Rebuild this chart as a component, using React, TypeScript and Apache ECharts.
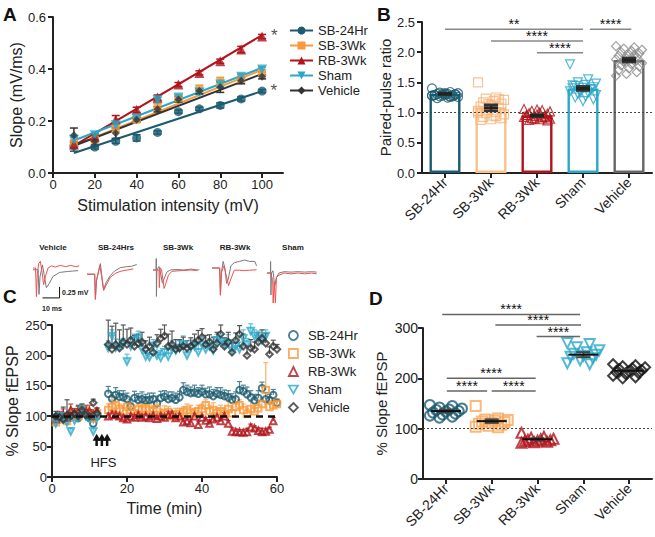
import React, { useEffect, useRef } from 'react';
import * as echarts from 'echarts';

const FONT = "'Liberation Sans', Arial, Helvetica, sans-serif";
const NARROW = "'Liberation Sans Narrow', 'Liberation Sans', Arial, sans-serif";

const groups = ['SB-24Hr', 'SB-3Wk', 'RB-3Wk', 'Sham', 'Vehicle'];

// ---------- Panel A: input/output ----------
const intensity = [10, 20, 30, 40, 50, 60, 70, 80, 90, 100];
const aSB24 = [0.104, 0.1, 0.122, 0.135, 0.156, 0.236, 0.247, 0.26, 0.285, 0.315];
const aSB3 = [0.115, 0.128, 0.17, 0.205, 0.256, 0.288, 0.325, 0.35, 0.365, 0.385];
const aRB3 = [0.11, 0.14, 0.206, 0.243, 0.29, 0.34, 0.385, 0.43, 0.475, 0.525];
const aSham = [0.128, 0.145, 0.184, 0.21, 0.28, 0.29, 0.31, 0.34, 0.37, 0.398];
const aVeh = [0.145, 0.122, 0.153, 0.205, 0.245, 0.283, 0.315, 0.33, 0.355, 0.37];
const aErrSB24 = [0.02, 0.008, 0.008, 0.012, 0.006, 0.006, 0.006, 0.01, 0.008, 0.006];
const aErrSB3 = [0.01, 0.01, 0.012, 0.01, 0.012, 0.012, 0.012, 0.018, 0.015, 0.012];
const aErrRB3 = [0.01, 0.01, 0.015, 0.01, 0.01, 0.008, 0.008, 0.008, 0.012, 0.008];
const aErrSham = [0.01, 0.008, 0.01, 0.008, 0.01, 0.01, 0.008, 0.01, 0.01, 0.01];
const aErrVeh = [0.028, 0.02, 0.02, 0.008, 0.01, 0.01, 0.01, 0.02, 0.012, 0.008];
const aFitStart = [0.077, 0.105, 0.105, 0.125, 0.105];
const aFitEnd = [0.315, 0.397, 0.53, 0.405, 0.381];
const aStarred = [true, false, true, false, false];

// ---------- Panel B: paired-pulse ratio ----------
const bSB24 = [1.4, 1.34, 1.33, 1.32, 1.31, 1.31, 1.3, 1.3, 1.29, 1.29, 1.28, 1.28, 1.27, 1.27, 1.26, 1.25, 1.24, 1.3, 1.32, 1.29, 1.27, 1.31, 1.28, 1.26];
const bSB3 = [1.5, 1.25, 1.23, 1.21, 1.19, 1.17, 1.15, 1.12, 1.1, 1.08, 1.05, 1.03, 1.01, 0.99, 0.97, 0.95, 0.93, 0.91, 0.89, 0.88, 1.22, 1.14, 1.0, 0.94];
const bRB3 = [1.06, 1.04, 1.03, 1.02, 1.0, 0.99, 0.98, 0.97, 0.96, 0.95, 0.94, 0.93, 0.92, 0.91, 0.9, 0.89, 0.88, 0.87, 1.05, 0.96, 0.93, 0.9];
const bSham = [1.8, 1.55, 1.5, 1.48, 1.46, 1.44, 1.42, 1.41, 1.4, 1.38, 1.36, 1.35, 1.33, 1.31, 1.29, 1.27, 1.25, 1.22, 1.19, 1.45, 1.39, 1.34];
const bVeh = [2.1, 2.08, 2.06, 2.04, 2.02, 2.0, 1.98, 1.96, 1.94, 1.92, 1.9, 1.88, 1.86, 1.84, 1.82, 1.8, 1.78, 1.76, 1.73, 1.7, 1.67, 1.64, 1.61, 1.95, 1.85];
const bMean = [1.31, 1.08, 0.95, 1.4, 1.87];
const bSem = [0.015, 0.05, 0.015, 0.035, 0.035];
const bSigFrom = [0, 1, 2, 3.15];
const bSigTo = [3, 3, 3, 4.05];
const bSigLevel = [2.38, 2.185, 1.99, 2.38];
const bSigLabel = ['**', '****', '****', '****'];

// ---------- Sample traces (ms, mV) ----------
const trVehRed = [[0, 0], [1.5, 0], [2, -0.65], [2.5, -0.15], [3.3, 0.1], [4.3, 0.15], [5.3, -0.1], [6.2, -0.38], [7.2, -0.2], [8.8, 0], [10.7, 0.05], [13, 0.02], [16, 0.06], [19, 0.03], [22, 0.06], [25, 0.03], [27, 0.05]];
const trVehGray = [[0, -0.04], [3, -0.04], [3.5, -0.6], [4.1, -0.2], [5.5, 0.07], [6.5, -0.15], [7.8, -0.45], [9.5, -0.35], [11.7, -0.19], [15.6, -0.1], [20, -0.08], [23, -0.07], [26.3, -0.06]];
const trSB24Gray = [[0, -0.05], [4.5, -0.05], [4.9, -0.62], [5.5, -0.2], [7.8, 0.19], [8.7, -0.1], [9.7, -0.4], [11, -0.25], [13.6, -0.08], [16, 0.02], [19.5, 0.1], [23, 0.12], [26, 0.13], [29, 0.17]];
const trSB24Red = [[0, -0.05], [4.5, -0.05], [4.9, -0.62], [5.5, -0.2], [7.5, 0.15], [8.5, -0.1], [9.7, -0.42], [11.2, -0.3], [13.6, -0.12], [17, -0.02], [20, 0.02], [24, 0.05], [27, 0.07]];
const trSB3Gray = [[0, 0], [1.8, 0], [1.9, 0.3], [2.0, -0.6], [2.3, 0], [3.5, 0.08], [4.5, -0.1], [5.5, -0.3], [6.5, -0.2], [8, -0.05], [10, 0], [14, 0.01], [18, 0.0], [22, 0.02], [26, 0.0], [27, 0.01]];
const trSB3Red = [[0, 0], [3.5, 0], [3.7, -0.4], [4.2, 0.05], [5, 0.0], [6.5, -0.42], [7.5, -0.3], [9, -0.12], [11, -0.03], [14, -0.02], [18, -0.01], [22, 0.0], [26, -0.01]];
const trRB3Gray = [[0, 0], [4.5, 0], [4.9, -0.6], [5.5, -0.1], [6.5, 0.15], [7.5, 0], [8.5, -0.35], [9.5, -0.25], [11, 0.05], [13, 0.12], [16, 0.15], [19, 0.18], [22, 0.15], [25, 0.15], [26, 0.05]];
const trRB3Red = [[0, 0], [4.5, 0], [4.9, -0.62], [5.5, -0.1], [7, 0.05], [8.5, -0.2], [9.7, -0.4], [11, -0.25], [13, -0.05], [16, -0.05], [19, -0.06], [22, -0.05], [26, -0.04]];
const trShamGray = [[0, 0], [2, 0], [2.1, 0.35], [2.3, -0.5], [2.6, 0], [3.5, 0.05], [4.5, -0.3], [5.5, -0.1], [7, 0.0], [10, 0.03], [14, 0.02], [18, 0.03], [22, 0.02], [26, 0.03], [29, 0.02]];
const trShamRed = [[0, 0], [2, 0], [3.3, -0.15], [3.6, -0.68], [4.2, -0.2], [4.9, -0.68], [5.5, -0.1], [7, -0.05], [10, 0.0], [14, -0.02], [18, 0.0], [22, -0.02], [26, 0.0], [29, -0.02]];
const traceLabels = ['Vehicle', 'SB-24Hrs', 'SB-3Wk', 'RB-3Wk', 'Sham'];
const scaleBarMs = 10;
const scaleBarMv = 0.25;

// ---------- Panel C: LTP time course ----------
const cPreTime = [1, 2, 3, 4, 5, 6, 7, 8, 9, 10, 11, 12];
const cPostTime = [15, 16, 17, 18, 19, 20, 21, 22, 23, 24, 25, 26, 27, 28, 29, 30, 31, 32, 33, 34, 35, 36, 37, 38, 39, 40, 41, 42, 43, 44, 45, 46, 47, 48, 49, 50, 51, 52, 53, 54, 55, 56, 57, 58, 59, 60];
const cPreSB24 = [98, 100, 95, 97, 102, 100, 97, 106, 104, 97, 88, 100];
const cPreSB3 = [90, 95, 98, 92, 100, 105, 100, 108, 110, 103, 97, 105];
const cPreRB3 = [95, 100, 102, 98, 110, 104, 108, 106, 110, 108, 103, 108];
const cPreSham = [88, 100, 95, 90, 75, 93, 98, 110, 100, 96, 75, 98];
const cPreVeh = [100, 98, 95, 102, 100, 104, 100, 110, 102, 100, 122, 105];
const cPostSB24 = [137, 129, 135, 132, 131, 128, 116, 130, 127, 128, 126, 127, 128, 121, 130, 132, 128, 130, 127, 131, 143, 140, 138, 139, 137, 140, 136, 136, 133, 137, 135, 133, 131, 127, 128, 143, 141, 136, 131, 126, 130, 146, 128, 126, 135, 122];
const cPostSB3 = [110, 115, 118, 112, 108, 115, 110, 105, 112, 110, 113, 110, 108, 112, 102, 105, 107, 100, 103, 104, 107, 110, 106, 104, 108, 112, 118, 108, 110, 105, 108, 104, 112, 105, 115, 118, 110, 104, 112, 108, 113, 120, 143, 115, 118, 120];
const cPostRB3 = [100, 103, 102, 100, 97, 95, 100, 98, 102, 98, 100, 97, 101, 96, 100, 98, 102, 103, 97, 100, 90, 92, 89, 100, 86, 98, 93, 88, 95, 98, 92, 100, 88, 75, 74, 74, 73, 74, 82, 80, 76, 74, 75, 78, 92];
const cPostSham = [212, 232, 213, 214, 218, 190, 215, 225, 228, 210, 198, 197, 216, 200, 196, 205, 198, 210, 208, 212, 218, 200, 213, 215, 205, 218, 210, 215, 208, 225, 222, 218, 220, 208, 215, 210, 228, 218, 240, 232, 228, 225, 232];
const cPostVeh = [218, 210, 218, 212, 222, 218, 225, 215, 220, 222, 210, 215, 205, 220, 228, 232, 215, 218, 210, 212, 215, 212, 215, 220, 225, 230, 218, 222, 210, 220, 235, 215, 222, 205, 225, 235, 215, 200, 212, 210, 222, 228, 220, 202, 215, 210];
const cPreErrSB24 = [5, 4, 6, 5, 4, 5, 6, 5, 4, 5, 6, 5];
const cPreErrSB3 = [6, 8, 5, 10, 6, 8, 6, 8, 6, 5, 6, 8];
const cPreErrRB3 = [6, 8, 10, 6, 10, 8, 8, 10, 8, 10, 8, 6];
const cPreErrSham = [8, 6, 8, 10, 6, 8, 6, 10, 8, 6, 8, 6];
const cPreErrVeh = [8, 6, 20, 25, 10, 8, 18, 10, 8, 10, 6, 8];
const cPostErrSB24 = [12, 10, 12, 10, 11, 10, 12, 11, 10, 12, 10, 11, 10, 12, 11, 10, 12, 10, 11, 10, 12, 11, 10, 12, 10, 11, 10, 12, 11, 10, 12, 10, 11, 10, 12, 14, 10, 12, 11, 10, 12, 10, 11, 10, 9, 6];
const cPostErrSB3 = [10, 12, 10, 8, 9, 10, 12, 10, 8, 10, 12, 10, 9, 8, 10, 12, 9, 8, 10, 9, 8, 10, 12, 9, 10, 8, 9, 10, 12, 8, 10, 9, 12, 10, 8, 9, 10, 8, 12, 10, 9, 10, 45, 10, 8, 9];
const cPostErrRB3 = [5, 6, 5, 4, 6, 5, 4, 5, 6, 5, 4, 5, 6, 5, 4, 5, 6, 5, 4, 5, 6, 5, 6, 5, 6, 4, 5, 6, 5, 4, 5, 6, 5, 6, 5, 4, 5, 6, 5, 4, 5, 6, 5, 4, 6];
const cPostErrSham = [12, 10, 14, 12, 10, 12, 14, 10, 12, 14, 10, 12, 10, 14, 12, 10, 12, 14, 10, 12, 14, 10, 12, 10, 14, 12, 10, 12, 14, 10, 12, 10, 14, 12, 10, 12, 14, 10, 12, 10, 12, 8, 10];
const cPostErrVeh = [40, 38, 35, 30, 28, 25, 20, 18, 15, 16, 14, 15, 12, 14, 15, 18, 20, 22, 16, 14, 15, 12, 14, 15, 16, 14, 15, 12, 20, 18, 15, 14, 16, 15, 12, 14, 20, 15, 14, 12, 15, 14, 16, 12, 10, 8];
const hfsTimes = [11.9, 13.3, 14.7];

// ---------- Panel D: LTP summary ----------
const dSB24 = [147, 145, 142, 140, 138, 137, 135, 134, 132, 130, 128, 126, 124, 122];
const dSB3 = [145, 120, 118, 117, 116, 114, 113, 112, 110, 108, 106, 104, 103];
const dRB3 = [92, 84, 82, 80, 79, 78, 77, 76, 75, 74, 73, 72];
const dSham = [270, 268, 262, 256, 252, 249, 247, 245, 243, 240, 236, 230, 228];
const dVeh = [228, 226, 224, 222, 220, 218, 216, 214, 212, 210, 208, 205, 202, 200];
const dMean = [135, 115, 79, 247, 215];
const dSem = [3, 3.5, 2, 5, 3];
const dSigFrom = [-0.08, 1.08, 1.98, 0.02, 0.02, 1.0];
const dSigTo = [2.93, 2.95, 2.93, 1.96, 0.9, 1.96];
const dSigLevel = [327, 306, 283, 200, 175, 175];
const dSigLabel = ['****', '****', '****', '****', '****', '****'];

// ---------- styles ----------
const SYM = ['circle', 'rect', 'triangle', 'path://M0,0L10,0L5,8.7Z', 'diamond'];
const aColors = ['#1b5b70', '#f79a3c', '#b1141c', '#2aa8c8', '#333333'];
const aSizes = [9, 8, 10, 10, 8];
const bBarColors = ['#1b5b70', '#f9c28c', '#b1141c', '#2aa8c8', '#666666'];
const bPtColors = ['#1b5b70', '#f7b478', '#b1141c', '#2aa8c8', '#8a8a8a'];
const cColors = ['#1b5b70', '#f79a3c', '#b1141c', '#2aa8c8', '#333333'];
const cErrColors = ['#4f8495', '#f8b070', '#c45050', '#5fc0d8', '#555555'];
const dColors = ['#1b5b70', '#f7a95c', '#b1141c', '#2aa8c8', '#111111'];
const AXC = '#222222';

function jitter(k: number, half: number) {
  return (((k * 7) % 11) / 10 - 0.5) * 2 * half;
}

function errorBar(color: string, capW: number, lw: number, upOnly: boolean) {
  return (params: any, api: any) => {
    const x = api.value(0), m = api.value(1), e = api.value(2);
    const hi = api.coord([x, m + e]);
    const lo = api.coord([x, upOnly ? m : m - e]);
    const st = { stroke: color, lineWidth: lw };
    const ch: any[] = [
      { type: 'line', shape: { x1: hi[0], y1: hi[1], x2: lo[0], y2: lo[1] }, style: st },
      { type: 'line', shape: { x1: hi[0] - capW / 2, y1: hi[1], x2: hi[0] + capW / 2, y2: hi[1] }, style: st },
    ];
    if (!upOnly) ch.push({ type: 'line', shape: { x1: lo[0] - capW / 2, y1: lo[1], x2: lo[0] + capW / 2, y2: lo[1] }, style: st });
    return { type: 'group', children: ch };
  };
}

function meanSem(meanW: number, capW: number, meanColor: string, semColor: string, meanLw: number, semLw: number) {
  return (params: any, api: any) => {
    const x = api.value(0), m = api.value(1), s = api.value(2);
    const c = api.coord([x, m]);
    const t = api.coord([x, m + s]);
    const b = api.coord([x, m - s]);
    const st = { stroke: semColor, lineWidth: semLw };
    return {
      type: 'group',
      children: [
        { type: 'line', shape: { x1: t[0], y1: t[1], x2: b[0], y2: b[1] }, style: st },
        { type: 'line', shape: { x1: t[0] - capW / 2, y1: t[1], x2: t[0] + capW / 2, y2: t[1] }, style: st },
        { type: 'line', shape: { x1: b[0] - capW / 2, y1: b[1], x2: b[0] + capW / 2, y2: b[1] }, style: st },
        { type: 'line', shape: { x1: c[0] - meanW / 2, y1: c[1], x2: c[0] + meanW / 2, y2: c[1] }, style: { stroke: meanColor, lineWidth: meanLw } },
      ],
    };
  };
}

function sigRender(from: number[], to: number[], labels: string[], lineColor: string, fontSize: number) {
  return (params: any, api: any) => {
    const i = params.dataIndex;
    const y = api.value(1);
    const p0 = api.coord([0, y]);
    const p1 = api.coord([1, y]);
    const bw = p1[0] - p0[0];
    const xa = p0[0] + from[i] * bw;
    const xb = p0[0] + to[i] * bw;
    return {
      type: 'group',
      children: [
        { type: 'line', shape: { x1: xa, y1: p0[1], x2: xb, y2: p0[1] }, style: { stroke: lineColor, lineWidth: 1.5 } },
        {
          type: 'text', x: (xa + xb) / 2, y: p0[1] + 2,
          style: { text: labels[i], fill: '#111', fontSize, fontFamily: FONT, align: 'center', verticalAlign: 'bottom' },
        },
      ],
    };
  };
}

function valueAxis(extra: any, fontSize: number) {
  return {
    type: 'value',
    axisLine: { show: true, onZero: false, lineStyle: { color: AXC, width: 2 } },
    axisTick: { show: true, length: 5, inside: false, lineStyle: { color: AXC, width: 2 } },
    axisLabel: { color: AXC, fontSize, fontFamily: FONT },
    splitLine: { show: false },
    nameTextStyle: { color: AXC, fontSize: 16, fontFamily: FONT },
    ...extra,
  };
}

function catAxis(gridIndex: number) {
  return {
    type: 'category', gridIndex, data: groups, boundaryGap: true,
    axisLine: { show: true, onZero: false, lineStyle: { color: AXC, width: 2 } },
    axisTick: { show: true, length: 5, alignWithLabel: true, lineStyle: { color: AXC, width: 2 } },
    axisLabel: { color: AXC, fontSize: 14, fontFamily: FONT, rotate: 45, margin: 7, interval: 0 },
    splitLine: { show: false },
  };
}

function letter(text: string, left: number, top: number) {
  return { type: 'text', left, top, style: { text, fontSize: 19, fontWeight: 'bold', fontFamily: FONT, fill: '#111' } };
}

function topOption() {
  const aSeries = [aSB24, aSB3, aRB3, aSham, aVeh];
  const aErrors = [aErrSB24, aErrSB3, aErrRB3, aErrSham, aErrVeh];
  const bPoints = [bSB24, bSB3, bRB3, bSham, bVeh];
  const traces = [
    [trVehGray, trVehRed], [trSB24Gray, trSB24Red], [trSB3Gray, trSB3Red], [trRB3Gray, trRB3Red], [trShamGray, trShamRed],
  ];
  const traceLeft = [33, 87, 153, 212, 267];
  const traceTop = [257, 261, 259, 257, 262];
  const traceLabelX = [53, 116, 178, 235, 293];
  const legendTops = [24, 39, 54, 69, 84];

  const series: any[] = [];
  groups.forEach((g, i) => {
    series.push({
      type: 'line', name: g, xAxisIndex: 0, yAxisIndex: 0,
      data: [[intensity[0], aFitStart[i]], [intensity[intensity.length - 1], aFitEnd[i]]],
      symbol: SYM[i], symbolSize: aSizes[i], showSymbol: false,
      lineStyle: { color: aColors[i], width: 2 }, itemStyle: { color: aColors[i] },
      silent: true, z: 2,
    });
  });
  groups.forEach((g, i) => {
    series.push({
      type: 'custom', name: 'errA-' + g, xAxisIndex: 0, yAxisIndex: 0, silent: true, z: 3,
      data: intensity.map((x, k) => [x, aSeries[i][k], aErrors[i][k]]),
      renderItem: errorBar(aColors[i], 8, 1.5, false),
    });
    series.push({
      type: 'scatter', name: 'ptsA-' + g, xAxisIndex: 0, yAxisIndex: 0, z: 4, silent: true,
      symbol: SYM[i], symbolSize: aSizes[i], itemStyle: { color: aColors[i] },
      data: intensity.map((x, k) => {
        const item: any = { value: [x, aSeries[i][k]] };
        if (aStarred[i] && k === intensity.length - 1) {
          item.label = { show: true, formatter: '*', position: 'right', distance: 4, offset: [0, -1], fontSize: 17, color: '#222', fontFamily: FONT };
        }
        return item;
      }),
    });
  });

  // Panel B
  series.push({
    type: 'bar', name: 'barB', xAxisIndex: 1, yAxisIndex: 1, barWidth: 31, silent: true, z: 1,
    data: bMean.map((v, i) => ({ value: v, itemStyle: { color: 'rgba(0,0,0,0)', borderColor: bBarColors[i], borderWidth: 2.4 } })),
    markLine: {
      silent: true, symbol: ['none', 'none'], label: { show: false },
      lineStyle: { color: '#444', type: [2, 2], width: 1.2 },
      data: [{ yAxis: 1 }],
    },
  });
  groups.forEach((g, i) => {
    series.push({
      type: 'scatter', name: 'ptsB-' + g, xAxisIndex: 1, yAxisIndex: 1, silent: true, z: 3,
      symbol: SYM[i], symbolSize: 9,
      itemStyle: { color: 'rgba(0,0,0,0)', borderColor: bPtColors[i], borderWidth: 1.2 },
      data: bPoints[i].map((v, k) => ({ value: [i, v], symbolOffset: [jitter(k, 13), 0] })),
    });
  });
  series.push({
    type: 'custom', name: 'meanB', xAxisIndex: 1, yAxisIndex: 1, silent: true, z: 5,
    data: bMean.map((m, i) => [i, m, bSem[i]]),
    renderItem: meanSem(14, 14, '#222', '#333', 3, 2.5),
  });
  series.push({
    type: 'custom', name: 'sigB', xAxisIndex: 1, yAxisIndex: 1, silent: true, z: 5,
    data: bSigLevel.map((l) => [0, l]),
    renderItem: sigRender(bSigFrom, bSigTo, bSigLabel, '#888', 14),
  });

  // Traces
  traces.forEach((pair, k) => {
    series.push({
      type: 'line', name: 'trg-' + k, xAxisIndex: 2 + k, yAxisIndex: 2 + k, data: pair[0], showSymbol: false, silent: true,
      lineStyle: { color: '#7a7a7a', width: 1 }, z: 2,
    });
    series.push({
      type: 'line', name: 'trr-' + k, xAxisIndex: 2 + k, yAxisIndex: 2 + k, data: pair[1], showSymbol: false, silent: true,
      lineStyle: { color: '#f05050', width: 1 }, z: 3,
    });
  });
  series.push({
    type: 'line', name: 'scalebar', xAxisIndex: 2, yAxisIndex: 2, showSymbol: false, silent: true,
    data: [[5.5, -0.68], [5.5 + scaleBarMs, -0.68], [5.5 + scaleBarMs, -0.68 + scaleBarMv]],
    lineStyle: { color: '#111', width: 1 },
  });

  const grids: any[] = [
    { left: 53, top: 17, width: 230, height: 156, containLabel: false, outerBoundsMode: 'none' },
    { left: 422, top: 22, width: 230, height: 151, containLabel: false, outerBoundsMode: 'none' },
  ];
  const xAxes: any[] = [
    valueAxis({
      gridIndex: 0, min: 0, max: 110, interval: 20,
      axisTick: { show: true, length: 5, lineStyle: { color: AXC, width: 2 }, customValues: [0, 20, 40, 60, 80, 100] },
      axisLabel: { color: AXC, fontSize: 13, fontFamily: FONT, margin: 5, customValues: [0, 20, 40, 60, 80, 100] },
      name: 'Stimulation intensity (mV)', nameLocation: 'middle', nameGap: 24,
    }, 13),
    catAxis(1),
  ];
  const yAxes: any[] = [
    valueAxis({
      gridIndex: 0, min: 0, max: 0.6, interval: 0.2,
      axisLabel: { color: AXC, fontSize: 13, fontFamily: FONT, margin: 7, formatter: (v: number) => v.toFixed(1) },
      name: 'Slope (mV/ms)', nameLocation: 'middle', nameGap: 28,
    }, 13),
    valueAxis({
      gridIndex: 1, min: 0, max: 2.5, interval: 0.5,
      axisLabel: { color: AXC, fontSize: 13, fontFamily: FONT, margin: 7, formatter: (v: number) => v.toFixed(1) },
      name: 'Paired-pulse ratio', nameLocation: 'middle', nameGap: 27,
      nameTextStyle: { color: AXC, fontSize: 15, fontFamily: FONT },
    }, 13),
  ];
  traceLeft.forEach((l, k) => {
    grids.push({ left: l, top: traceTop[k], width: 51.4, height: 44, containLabel: false, outerBoundsMode: 'none' });
    xAxes.push({ type: 'value', gridIndex: 2 + k, min: 0, max: 30, show: false });
    yAxes.push({ type: 'value', gridIndex: 2 + k, min: -0.75, max: 0.25, show: false });
  });

  const legendText = { fontSize: 13, fontFamily: FONT, color: '#222', lineHeight: 12 };
  const legends = groups.map((g, i) => ({
    data: [g], orient: 'vertical', left: 289, top: legendTops[i], itemWidth: 23, itemHeight: 10, itemGap: 0,
    textStyle: legendText, selectedMode: false, padding: 0,
  }));

  const graphic: any[] = [
    letter('A', 3, 5),
    letter('B', 377, 5),
    ...traceLabels.map((t, k) => ({
      type: 'text', x: traceLabelX[k], y: 247,
      style: { text: t, fontSize: 8, fontWeight: 'bold', fontFamily: NARROW, fill: '#222', align: 'center', verticalAlign: 'middle' },
    })),
    { type: 'text', x: 62, y: 292, style: { text: '0.25 mV', fontSize: 7, fontWeight: 'bold', fontFamily: NARROW, fill: '#222', verticalAlign: 'middle' } },
    { type: 'text', x: 42, y: 308, style: { text: '10 ms', fontSize: 7, fontWeight: 'bold', fontFamily: NARROW, fill: '#222', verticalAlign: 'middle' } },
  ];

  return {
    animation: false,
    backgroundColor: '#ffffff',
    textStyle: { fontFamily: FONT },
    grid: grids, xAxis: xAxes, yAxis: yAxes,
    legend: legends,
    graphic,
    series,
  };
}

function bottomOption() {
  const cPre = [cPreSB24, cPreSB3, cPreRB3, cPreSham, cPreVeh];
  const cPost = [cPostSB24, cPostSB3, cPostRB3, cPostSham, cPostVeh];
  const cPreErr = [cPreErrSB24, cPreErrSB3, cPreErrRB3, cPreErrSham, cPreErrVeh];
  const cPostErr = [cPostErrSB24, cPostErrSB3, cPostErrRB3, cPostErrSham, cPostErrVeh];
  const dPoints = [dSB24, dSB3, dRB3, dSham, dVeh];

  const cPts = groups.map((g, i) => [
    ...cPreTime.map((t, k) => [t, cPre[i][k], cPreErr[i][k] ?? 0]),
    ...cPost[i].map((v, k) => [cPostTime[k], v, cPostErr[i][k] ?? 0]),
  ]);

  const series: any[] = [];
  groups.forEach((g, i) => {
    series.push({
      type: 'custom', name: 'errC-' + g, xAxisIndex: 0, yAxisIndex: 0, silent: true, z: 2,
      data: cPts[i], renderItem: errorBar(cErrColors[i], 5, 1.2, true),
    });
  });
  groups.forEach((g, i) => {
    const s: any = {
      type: 'scatter', name: g, xAxisIndex: 0, yAxisIndex: 0, silent: true, z: 3,
      symbol: SYM[i], symbolSize: 6.5,
      itemStyle: { color: 'rgba(0,0,0,0)', borderColor: cColors[i], borderWidth: 2 },
      data: cPts[i].map((p) => [p[0], p[1]]),
    };
    if (i === 0) {
      s.markLine = {
        silent: true, symbol: ['none', 'none'], label: { show: false },
        lineStyle: { color: '#111', type: [7, 5], width: 2.5 },
        data: [{ yAxis: 100 }],
      };
    }
    series.push(s);
  });
  series.push({
    type: 'custom', name: 'hfs', xAxisIndex: 0, yAxisIndex: 0, silent: true, z: 4,
    data: hfsTimes.map((t) => [t, 71]),
    renderItem: (params: any, api: any) => {
      const t = api.value(0);
      const tip = api.coord([t, api.value(1)]);
      const base = api.coord([t, 51]);
      const hh = 7, hw = 8;
      const ch: any[] = [
        { type: 'line', shape: { x1: tip[0], y1: tip[1] + hh - 1, x2: base[0], y2: base[1] }, style: { stroke: '#111', lineWidth: 2.5 } },
        { type: 'polygon', shape: { points: [[tip[0], tip[1]], [tip[0] - hw / 2, tip[1] + hh], [tip[0] + hw / 2, tip[1] + hh]] }, style: { fill: '#111' } },
      ];
      if (params.dataIndex === 1) {
        const tp = api.coord([13.7, 23.5]);
        ch.push({ type: 'text', x: tp[0], y: tp[1], style: { text: 'HFS', fill: '#222', fontSize: 13, fontFamily: FONT, align: 'center', verticalAlign: 'middle' } });
      }
      return { type: 'group', children: ch };
    },
  });

  // Panel D
  groups.forEach((g, i) => {
    const s: any = {
      type: 'scatter', name: 'ptsD-' + g, xAxisIndex: 1, yAxisIndex: 1, silent: true, z: 3,
      symbol: SYM[i], symbolSize: 10,
      itemStyle: { color: 'rgba(0,0,0,0)', borderColor: dColors[i], borderWidth: 2 },
      data: dPoints[i].map((v, k) => ({ value: [i, v], symbolOffset: [jitter(k, 16), 0] })),
    };
    if (i === 0) {
      s.markLine = {
        silent: true, symbol: ['none', 'none'], label: { show: false },
        lineStyle: { color: '#444', type: [2, 2], width: 1.2 },
        data: [{ yAxis: 100 }],
      };
    }
    series.push(s);
  });
  series.push({
    type: 'custom', name: 'meanD', xAxisIndex: 1, yAxisIndex: 1, silent: true, z: 5,
    data: dMean.map((m, i) => [i, m, dSem[i]]),
    renderItem: meanSem(30, 14, '#111', '#444', 2, 2),
  });
  series.push({
    type: 'custom', name: 'sigD', xAxisIndex: 1, yAxisIndex: 1, silent: true, z: 5,
    data: dSigLevel.map((l) => [0, l]),
    renderItem: sigRender(dSigFrom, dSigTo, dSigLabel, '#666', 14),
  });

  const legendIconStyle = (i: number) => ({ color: 'rgba(0,0,0,0)', borderColor: cColors[i], borderWidth: 1.8 });

  return {
    animation: false,
    backgroundColor: 'transparent',
    textStyle: { fontFamily: FONT },
    grid: [
      { left: 52, top: 325, width: 225, height: 152, containLabel: false, outerBoundsMode: 'none' },
      { left: 423, top: 328, width: 229, height: 151, containLabel: false, outerBoundsMode: 'none' },
    ],
    xAxis: [
      valueAxis({
        gridIndex: 0, min: 0, max: 60, interval: 20,
        axisLabel: { color: AXC, fontSize: 13, fontFamily: FONT, margin: 5 },
        name: 'Time (min)', nameLocation: 'middle', nameGap: 23,
      }, 13),
      catAxis(1),
    ],
    yAxis: [
      valueAxis({
        gridIndex: 0, min: 0, max: 250, interval: 50,
        axisLabel: { color: AXC, fontSize: 13, fontFamily: FONT, margin: 5 },
        name: '% Slope fEPSP', nameLocation: 'middle', nameGap: 32,
      }, 13),
      valueAxis({
        gridIndex: 1, min: 0, max: 300, interval: 100,
        axisLabel: { color: AXC, fontSize: 14, fontFamily: FONT, margin: 5 },
        name: '% Slope fEPSP', nameLocation: 'middle', nameGap: 34,
        nameTextStyle: { color: AXC, fontSize: 15, fontFamily: FONT },
      }, 14),
    ],
    legend: {
      orient: 'vertical', left: 288, top: 329, itemWidth: 9, itemHeight: 9, itemGap: 5, selectedMode: false, padding: 0,
      textStyle: { fontSize: 13, fontFamily: FONT, color: '#222', lineHeight: 12, padding: [0, 0, 0, 5] },
      data: groups.map((g, i) => ({ name: g, icon: SYM[i], itemStyle: legendIconStyle(i) })),
    },
    graphic: [letter('C', 3, 287), letter('D', 369, 289)],
    series,
  };
}

export default function App() {
  const r1 = useRef<HTMLDivElement>(null);
  const r2 = useRef<HTMLDivElement>(null);
  useEffect(() => {
    document.body.style.margin = '0';
    const c1 = echarts.init(r1.current as HTMLDivElement, undefined, { renderer: 'svg' });
    const c2 = echarts.init(r2.current as HTMLDivElement, undefined, { renderer: 'svg' });
    c1.setOption(topOption() as any);
    c2.setOption(bottomOption() as any);
    return () => {
      c1.dispose();
      c2.dispose();
    };
  }, []);
  return (
    <div style={{ position: 'relative', width: 655, height: 537 }}>
      <div ref={r1} style={{ position: 'absolute', left: 0, top: 0, width: 655, height: 537 }} />
      <div ref={r2} style={{ position: 'absolute', left: 0, top: 0, width: 655, height: 537 }} />
    </div>
  );
}
